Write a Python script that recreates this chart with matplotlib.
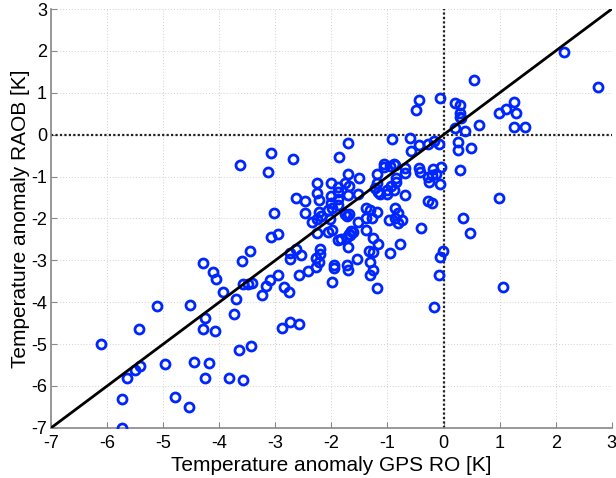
import numpy as np
import matplotlib
matplotlib.use('Agg')
import matplotlib.pyplot as plt

# GPS RO vs RAOB temperature anomalies [K]
gps_ro = [2.15, 2.75, 0.55, -0.43, -0.49, -0.06, 0.20, 0.30, 0.29, 0.30,
          0.32, 0.99, 1.11, 1.25, 1.29, 1.25, 1.46, 0.63, 0.20, 0.39,
          -0.92, -0.60, -1.70, -0.58, -0.44, -0.27, -0.17, -0.08, 0.25, 0.25,
          0.49, 0.29, -0.05, -0.07, 0.99, 0.35, 0.48, -0.01, -0.06, -0.08,
          1.06, -0.17, -3.08, -2.69, -1.87, -3.63, -3.14, -1.71, -1.51, -1.19,
          -1.07, -1.07, -0.96, -0.89, -0.87, -0.68, -0.68, -0.44, -0.42, -0.19,
          -0.21, -0.27, -0.26, -0.13, -0.85, -0.85, -0.94, -1.00, -0.89, -1.18,
          -1.16, -1.13, -1.01, -1.23, -0.68, -0.28, -0.21, -2.25, -2.25, -2.23,
          -2.01, -1.89, -1.76, -1.69, -1.88, -1.70, -1.53, -2.01, -2.00, -1.89,
          -1.88, -1.99, -2.06, -2.64, -2.48, -2.48, -3.02, -2.22, -2.18, -2.26,
          -2.34, -2.03, -1.75, -1.73, -1.68, -1.39, -1.32, -1.19, -1.39, -1.27,
          -1.53, -0.98, -0.86, -0.86, -0.81, -0.82, -0.74, -0.40, -2.26, -2.06,
          -1.99, -1.89, -1.82, -1.72, -1.68, -1.65, -1.62, -1.67, -1.39, -1.70,
          -1.25, -1.16, -1.26, -1.33, -0.96, -0.77, -1.54, -1.32, -1.25, -1.32,
          -1.18, -1.96, -1.96, -1.73, -1.71, -1.99, -2.21, -2.20, -2.27, -2.23,
          -2.27, -2.42, -2.58, -2.54, -2.64, -2.73, -2.74, -2.95, -3.08, -2.96,
          -3.10, -3.16, -3.23, -2.85, -2.75, -3.46, -3.60, -3.57, -3.49, -3.41,
          -3.71, -3.73, -3.94, -4.05, -4.12, -4.29, -4.53, -5.12, -4.26, -4.29,
          -4.08, -2.74, -2.57, -2.88, -5.44, -6.11, -3.43, -3.65, -4.97, -4.46,
          -4.19, -5.42, -5.51, -5.65, -4.26, -3.82, -3.58, -5.73, -4.79, -4.54,
          -5.73]
raob = [1.97, 1.14, 1.30, 0.84, 0.59, 0.88, 0.75, 0.70, 0.51, 0.43,
        0.39, 0.51, 0.61, 0.77, 0.53, 0.18, 0.18, 0.22, 0.15, 0.10,
        -0.10, -0.07, -0.19, -0.38, -0.24, -0.23, -0.14, -0.22, -0.18, -0.37,
        -0.32, -0.85, -0.77, -1.17, -1.51, -2.00, -2.35, -2.77, -2.92, -3.35,
        -3.64, -4.12, -0.43, -0.57, -0.53, -0.73, -0.89, -0.93, -1.03, -0.93,
        -0.69, -0.78, -0.74, -0.70, -0.73, -0.80, -0.91, -0.79, -0.90, -0.81,
        -0.96, -1.02, -1.13, -0.93, -1.03, -1.14, -1.22, -1.31, -1.32, -1.16,
        -1.38, -1.42, -1.42, -1.28, -1.45, -1.58, -1.63, -1.16, -1.39, -1.57,
        -1.16, -1.24, -1.16, -1.23, -1.38, -1.44, -1.42, -1.47, -1.62, -1.54,
        -1.67, -1.75, -1.80, -1.51, -1.59, -1.88, -1.86, -1.85, -1.94, -2.02,
        -2.08, -2.02, -1.89, -1.94, -1.89, -1.74, -1.79, -1.85, -2.00, -2.00,
        -2.08, -2.04, -2.00, -1.75, -1.88, -2.12, -2.04, -2.24, -2.34, -2.32,
        -2.28, -2.52, -2.48, -2.45, -2.36, -2.29, -2.32, -2.40, -2.28, -2.68,
        -2.46, -2.62, -2.80, -2.78, -2.82, -2.62, -2.96, -3.04, -3.22, -3.34,
        -3.66, -3.10, -3.19, -3.11, -3.22, -3.52, -2.72, -2.86, -2.94, -3.04,
        -3.17, -3.26, -3.36, -2.88, -2.72, -2.82, -2.97, -2.36, -2.44, -3.35,
        -3.47, -3.62, -3.82, -3.64, -3.75, -2.77, -3.01, -3.56, -3.56, -3.54,
        -3.93, -4.28, -3.75, -3.44, -3.27, -3.06, -4.06, -4.09, -4.38, -4.63,
        -4.68, -4.47, -4.51, -4.61, -4.63, -4.99, -5.05, -5.13, -5.48, -5.43,
        -5.46, -5.53, -5.61, -5.80, -5.82, -5.82, -5.86, -6.32, -6.27, -6.51,
        -7.00]

xlim = [-7, 3]
ylim = [-7, 3]
ticks = np.arange(-7, 4)

plt.rcParams['font.family'] = ['Liberation Sans', 'DejaVu Sans']
plt.rcParams['axes.unicode_minus'] = False

fig = plt.figure(figsize=(6.16, 4.78), dpi=100)
ax = fig.add_axes([0.083, 0.105, 0.910, 0.876])

ax.plot(gps_ro, raob, 'o', mfc='none', mec='#0026ff', mew=2.0, ms=6.5,
        linestyle='none', zorder=3)
ax.plot(xlim, ylim, color='black', lw=2, zorder=4)
ax.axhline(0, color='#222222', lw=1.6, ls=(0, (1, 1)), zorder=2)
ax.axvline(0, color='#222222', lw=1.6, ls=(0, (1, 1)), zorder=2)

ax.set_xlim(xlim)
ax.set_ylim(ylim)
ax.set_xticks(ticks)
ax.set_yticks(ticks)
ax.grid(True, color='#d0d0d0', ls=(0, (1, 2)), lw=0.7)
ax.set_axisbelow(True)

for side in ['top', 'right']:
    ax.spines[side].set_visible(False)
for side in ['left', 'bottom']:
    ax.spines[side].set_color('#888888')
    ax.spines[side].set_linewidth(1.2)
ax.tick_params(direction='in', length=4, color='#888888', labelsize=13,
               labelcolor='black')
ax.tick_params(axis='x', pad=5)
ax.tick_params(axis='y', pad=3)

ax.set_xlabel('Temperature anomaly GPS RO [K]', fontsize=15, labelpad=3)
ax.set_ylabel('Temperature anomaly RAOB [K]', fontsize=15, labelpad=1)

fig.savefig('out.png', dpi=100)
